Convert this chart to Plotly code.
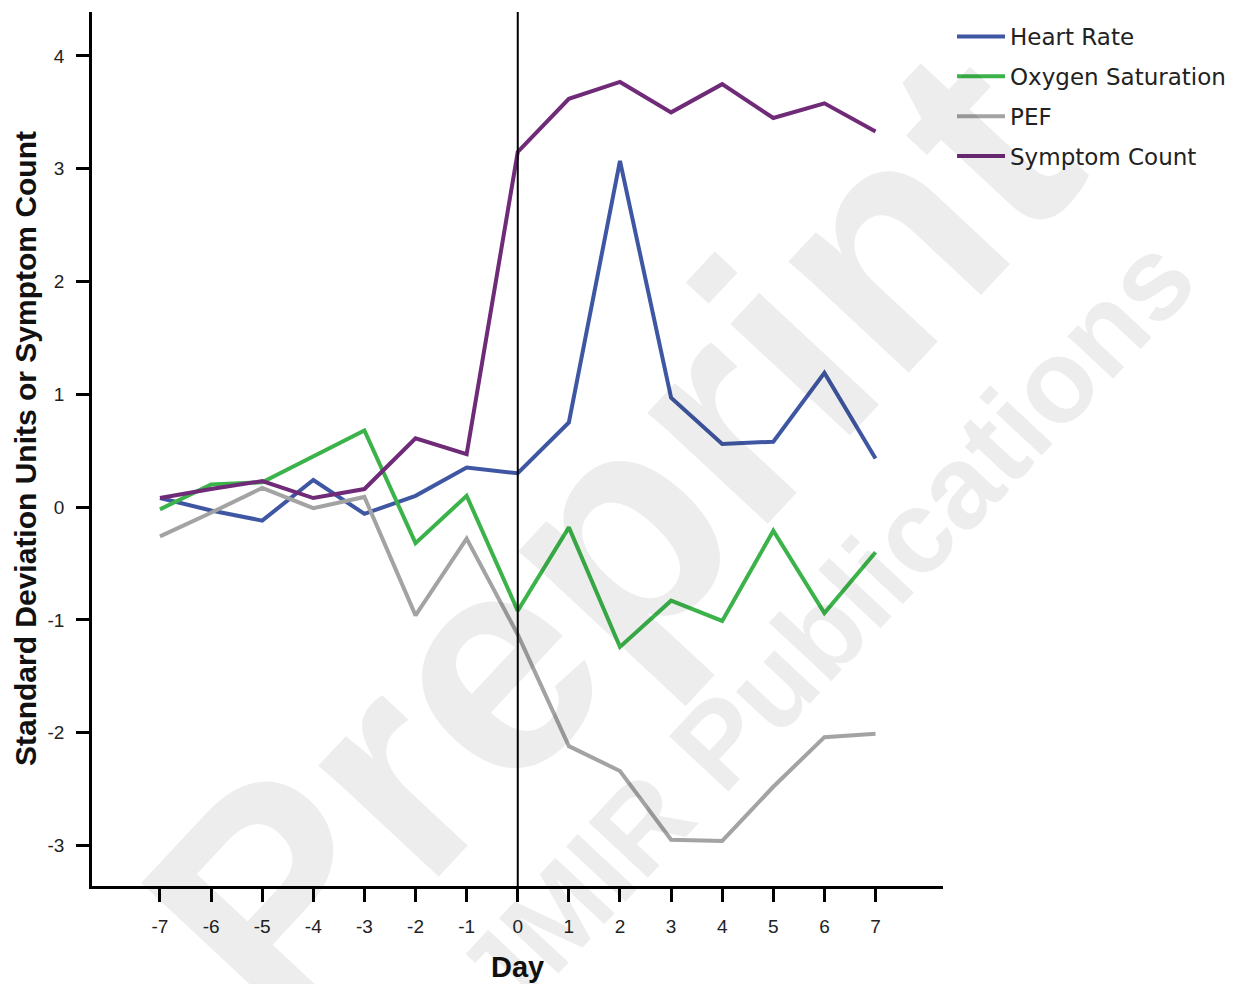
import plotly.graph_objects as go

days = [-7, -6, -5, -4, -3, -2, -1, 0, 1, 2, 3, 4, 5, 6, 7]
x_tick_labels = [str(d) for d in days]

heart_rate = [0.08, -0.03, -0.12, 0.24, -0.06, 0.10, 0.35, 0.30, 0.75, 3.07, 0.97, 0.56, 0.58, 1.19, 0.43]
oxygen_saturation = [-0.02, 0.20, 0.22, 0.45, 0.68, -0.32, 0.10, -0.92, -0.18, -1.24, -0.83, -1.01, -0.21, -0.94, -0.40]
pef = [-0.26, -0.05, 0.17, -0.01, 0.09, -0.96, -0.28, -1.13, -2.12, -2.34, -2.95, -2.96, -2.48, -2.04, -2.01]
symptom_count = [0.08, 0.16, 0.23, 0.08, 0.16, 0.61, 0.47, 3.15, 3.62, 3.77, 3.50, 3.75, 3.45, 3.58, 3.33]

series_names = ["Heart Rate", "Oxygen Saturation", "PEF", "Symptom Count"]
series_values = [heart_rate, oxygen_saturation, pef, symptom_count]
series_colors = ["#3f57a3", "#3cb34a", "#a3a3a3", "#6f2a78"]

y_ticks = [-3, -2, -1, 0, 1, 2, 3, 4]
y_tick_labels = ["-3", "-2", "-1", "0", "1", "2", "3", "4"]
reference_day = 0

fig = go.Figure()
for i, (name, vals, col) in enumerate(zip(series_names, series_values, series_colors)):
    fig.add_trace(go.Scatter(
        x=days, y=vals, name=name, mode="lines",
        line=dict(color=col, width=4),
        legendgroup=f"g{i}",
    ))

fig.add_shape(type="line", xref="x", yref="paper", x0=reference_day, x1=reference_day,
              y0=0, y1=1, line=dict(color="black", width=2), layer="above")

axis_font = dict(family="Liberation Sans, Arial, sans-serif", size=19, color="#222")
fig.update_xaxes(
    range=[-8.33, 8.32], tickvals=days, ticktext=x_tick_labels,
    showline=True, linecolor="black", linewidth=2.5,
    ticks="outside", ticklen=13, tickwidth=2.5, tickcolor="black",
    showgrid=False, zeroline=False, tickfont=axis_font,
    ticklabelstandoff=8,
)
fig.update_yaxes(
    range=[-3.36, 4.39], tickvals=y_ticks, ticktext=y_tick_labels,
    showline=True, linecolor="black", linewidth=2.5,
    ticks="outside", ticklen=13, tickwidth=2.5, tickcolor="black",
    showgrid=False, zeroline=False, tickfont=axis_font,
    ticklabelstandoff=8,
)

title_font = dict(family="Liberation Sans, Arial, sans-serif", size=30, color="#111")
wm_color = "rgba(0,0,0,0.07)"
annotations = [
    dict(text="<b>Standard Deviation Units or Symptom Count</b>", xref="paper", yref="paper",
         x=-0.0787, y=0.5, textangle=-90, showarrow=False, font=title_font,
         xanchor="center", yanchor="middle"),
    dict(text="<b>Day</b>", xref="paper", yref="paper", x=0.5, y=-0.093,
         showarrow=False, font=dict(family="Liberation Sans, Arial, sans-serif", size=29, color="#111"),
         xanchor="center", yanchor="middle"),
    dict(text="<b>Preprint</b>", xref="paper", yref="paper", x=0.609, y=0.40,
         textangle=-47, showarrow=False,
         font=dict(family="Liberation Sans, Arial, sans-serif", size=310, color=wm_color),
         xanchor="center", yanchor="middle"),
    dict(text="<b>JMIR Publications</b>", xref="paper", yref="paper", x=0.861, y=0.295,
         textangle=-47, showarrow=False,
         font=dict(family="Liberation Sans, Arial, sans-serif", size=118, color=wm_color),
         xanchor="center", yanchor="middle"),
]

fig.update_layout(
    width=1235, height=984,
    margin=dict(l=84, r=300, t=4, b=106),
    plot_bgcolor="white", paper_bgcolor="white",
    showlegend=True,
    legend=dict(
        x=1.0106, y=0.9966, xanchor="left", yanchor="top",
        font=dict(family="DejaVu Sans, sans-serif", size=23, color="#222"),
        traceorder="grouped", tracegroupgap=7, itemwidth=48,
        bgcolor="rgba(0,0,0,0)",
    ),
    annotations=annotations,
)

fig.write_html("out.html")
